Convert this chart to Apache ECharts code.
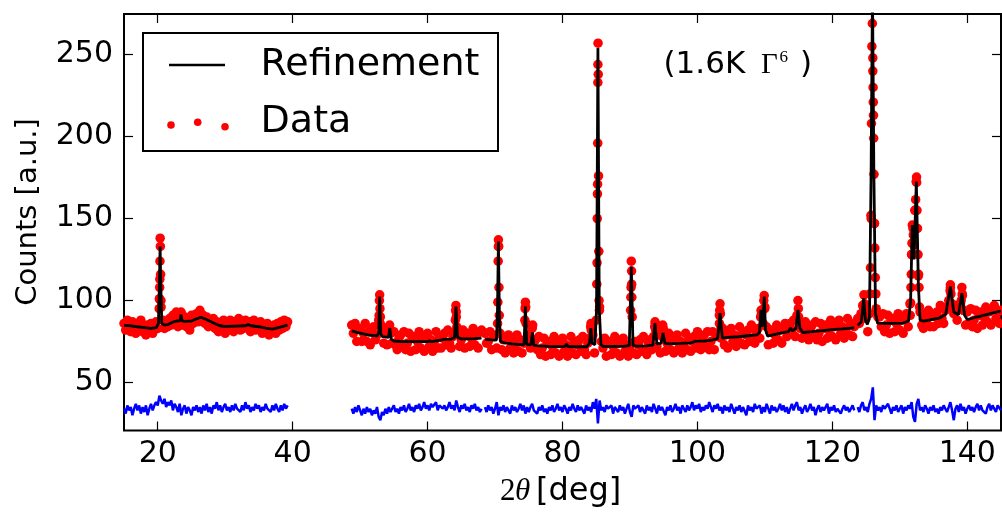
<!DOCTYPE html>
<html>
<head>
<meta charset="utf-8">
<script src="https://cdn.jsdelivr.net/npm/echarts@6/dist/echarts.min.js"></script>
<style>
  html, body { margin: 0; padding: 0; background: #ffffff; }
  #chart { width: 1002px; height: 513px; }
</style>
</head>
<body>
<div id="chart"></div>
<script>
// Powder diffraction pattern: observed counts, refined profile and difference curve.

const xTicks = [20, 40, 60, 80, 100, 120, 140];
const yTicks = [50, 100, 150, 200, 250];

// Observed data on a regular 0.25 deg grid; each block starts at the angle in segStart.
const STEP = 0.25;
const segStart = [15, 48.75, 68.5, 123.75];

const obsA = [
  86,82,88,84, 81,87,85,80, 86,83,88,81, 84,79,85,82, 86,80,84,87,
  83,101,96,88, 83,87,84,89, 85,91,86,93, 84,89,92,85, 90,84,88,82,
  91,86,89,92, 87,94,88,91, 86,90,84,88, 85,89,83,87, 81,86,83,88,
  80,86,82,88, 84,81,87,84, 89,82,86,83, 88,84,87,81, 85,88,82,86,
  83,87,80,85, 82,86,79,84, 81,85,80,86, 82,87,83,88, 84,87
];
const obsB = [
  85, 80,86,75,83,
  83,75,80,86, 75,81,73,83, 84,76,79,88, 90,84,74,81, 73,82,80,74,
  81,73,70,77, 79,73,81,70, 74,80,69,77, 78,70,75,81, 71,77,69,79,
  80,72,76,69, 75,81,71,78, 71,77,80,73, 82,74,71,78, 81,93,80,72,
  76,82,71,79, 80,72,77,83, 73,79,71,81, 82
];
const obsC = [
  80,74,
  75,81,70,78, 79,71,133,80, 70,76,68,78, 79,71,75,68, 73,79,69,76,
  68,74,96,74, 79,71,83,75, 76,70,78,67, 71,77,66,74, 75,67,72,78,
  68,74,66,76, 77,69,73,66, 72,78,68,75, 67,73,76,69, 78,70,67,74,
  77,82,79,68, 88,244,96,75, 71,77,66,74, 75,67,72,78, 68,74,66,76,
  77,69,73,66, 72,110,68,75, 67,73,76,69, 78,70,67,74, 76,70,78,86,
  72,79,68,80, 77,69,74,80, 70,76,68,78, 79,71,75,68, 74,80,70,77,
  69,75,78,71, 81,73,70,77, 79,73,81,70, 75,81,70,78, 80,91,77,83,
  73,79,71,81, 83,75,79,72, 78,84,74,81, 73,79,82,75, 85,77,74,81,
  83,77,92,86, 96,84,73,81, 82,74,79,85, 76,82,74,84, 86,78,82,86,
  82,88,78,91, 90,83,77,82, 87,79,76,83, 85,79,87,76, 80,86,75,83,
  85,77,82,88, 78,84,76,86, 88,80,84,77, 83,89,79,86,
  78,84
];
const obsD = [
  89,
  86,92,97,96, 89,81,92,150, 240,147,95,90, 90,84,92,81, 85,91,80,88,
  89,81,86,92, 82,88,80,90, 92,84,98,128, 140,155,172,115, 93,85,83,90,
  88,94,84,91, 84,90,93,86, 97,89,86,94, 96,100,108,98, 92,97,88,95,
  98,104,94,85, 93,86,95,84, 88,94,83,91, 93,85,90,96, 87,93,85,95,
  97,89,93,86,
  94
];

// Extra observed points on the flanks of the Bragg peaks [2theta, counts].
const obsPeaks = [
  [20.22,95],[20.26,101],[20.29,108],[20.31,113],[20.33,124],[20.36,138],[20.39,133],[20.43,116],[20.48,100],
  [23.45,93],
  [52.82,91],[52.86,100],[52.9,103.5],[52.94,95],[52.98,86],
  [54.38,85],[54.45,82],
  [64.12,88],[64.16,94],[64.2,97],[64.26,90],[64.33,84],
  [70.38,86],[70.42,99],[70.46,124],[70.5,137],[70.54,133],[70.58,108],[70.63,91],
  [74.42,88],[74.46,95],[74.5,99],[74.55,96],[74.6,86],
  [75.52,84],[75.58,85],
  [84.17,84],[84.22,86],
  [85.08,110],[85.12,123],[85.15,150],[85.18,165],[85.2,171],[85.22,196],[85.24,233],[85.27,257],[85.3,238],[85.34,176],[85.38,130],[85.42,100],[85.47,94],
  [90.1,94],[90.13,102],[90.16,108],[90.2,124],[90.24,118],[90.28,102],[90.33,90],
  [93.66,84],[93.72,87],[93.8,82],
  [94.86,85],[94.94,83],
  [103.26,86],[103.3,94],[103.35,98],[103.41,92],[103.48,84],
  [109.36,90],[109.43,94],[109.84,100],[109.9,103],[109.98,95],
  [114.84,90],[114.9,100],[114.96,95],[115.04,86],
  [124.6,96],[124.68,103.5],[124.78,98],
  [125.55,104],[125.65,120],[125.72,152],[125.8,208],[125.86,255],[125.93,269],[125.98,286],[126.0,248],[126.04,230],[126.07,221],[126.1,213],[126.13,199],[126.18,177],[126.24,147],[126.3,132],[126.37,114],[126.45,104],
  [131.55,91],[131.6,98.5],[131.65,108],[131.7,116],[131.75,128],[131.8,135],[131.85,146],[131.95,144],[132.05,134],[132.25,155],[132.35,161.5],[132.42,172.6],[132.48,175.3],[132.55,155],[132.62,144],[132.7,128],[132.78,116],[132.85,108],[132.92,96],
  [137.35,98],[137.45,106],[137.5,109.6],[137.58,104],[137.7,96],
  [139.1,100],[139.2,108],[139.28,103],[139.4,94]
];

// Refined profile [2theta, counts], one list per measured range.
const calcA = [
  [15.0,84.8],[16.0,84.5],[17.0,84.0],[18.0,83.5],[19.0,83.0],[19.8,83.5],[20.1,86],[20.25,110],[20.35,133],[20.45,110],[20.6,86],
  [21.0,85],[21.6,85.5],[22.2,86.8],[22.8,87.5],[23.3,87.6],[23.45,91.3],[23.6,87.6],[24.0,87.3],[24.9,87.4],[25.6,88.6],
  [26.4,89.8],[27.2,88.4],[28.2,86.4],[29.2,84.6],[30.0,84.2],[31.5,84.4],[33.0,84.6],[33.4,85.3],[33.8,84.6],[35.0,84.0],
  [36.0,83.2],[37.0,82.6],[38.0,83.6],[39.25,85.0]
];
const calcB = [
  [48.75,81.5],[49.5,80.6],[50.5,79.6],[51.5,78.8],[52.5,78.4],[52.75,80],[52.9,102.4],[53.05,80],[53.3,78],[54.2,77.5],
  [54.4,83.2],[54.6,76.5],[55.0,75.3],[56.0,75.0],[57.0,74.9],[58.0,74.9],[59.0,74.9],[60.0,74.9],[60.3,75.5],[60.6,74.9],
  [61.5,75.6],[62.5,76.3],[63.5,76.5],[64.0,77.5],[64.2,96.3],[64.45,77.5],[65.0,76.6],[66.0,76.6],[67.0,76.7],[68.0,77.0]
];
const calcC = [
  [68.5,76.3],[69.5,76.0],[70.2,75.8],[70.35,90],[70.5,136],[70.65,90],[70.8,75],[71.4,74.2],[72.5,73.6],[73.5,73.2],
  [74.3,73.0],[74.5,96.3],[74.7,73.3],[75.3,73.0],[75.55,80.5],[75.75,72.6],[76.5,72.3],[78.0,72.0],[79.5,71.9],[80.4,72.0],
  [80.6,73.5],[80.8,71.9],[82.0,71.8],[83.6,71.8],[84.0,74],[84.2,83.2],[84.4,74],[84.8,73],[85.05,95],[85.25,254],
  [85.45,95],[85.7,73],[86.0,72],[87.5,72],[89.0,72],[89.9,72.5],[90.2,120.7],[90.45,72.5],[91.0,72.2],[92.5,72.3],
  [93.4,72.8],[93.7,86.2],[94.0,73.5],[94.6,73.8],[94.9,80.1],[95.2,73.8],[96.0,73.6],[97.5,73.8],[99.0,74.2],[99.8,75.2],
  [100.0,74.4],[101.0,75.2],[102.3,76.0],[103.0,76.8],[103.35,92.3],[103.7,77.0],[104.5,77.5],[106.0,77.9],[107.5,78.5],[108.8,79],
  [109.2,80.5],[109.4,94.3],[109.6,84],[109.75,88],[109.9,102.4],[110.1,82],[110.4,78.3],[111.5,79.3],[112.5,80.2],[113.5,81],
  [113.8,83.2],[114.1,81.5],[114.6,83],[114.9,94.3],[115.2,83],[115.6,80.5],[117.0,81],[118.5,81.6],[120.0,82.3],[120.2,83.3],
  [120.4,82.4],[121.5,82.7],[123.25,83.3]
];
const calcD = [
  [123.75,84.8],[124.3,87],[124.65,101.5],[124.9,88],[125.2,85.5],[125.5,90],[125.75,180],[125.95,290],[126.15,180],[126.4,92],
  [126.7,86.2],[127.5,86.0],[129.0,86.0],[130.5,86.2],[131.3,87.5],[131.6,100],[131.85,146],[132.1,125],[132.45,172.6],[132.75,110],
  [133.0,88],[133.5,87.4],[134.5,88.2],[135.8,89.2],[136.8,91.5],[137.5,108.5],[138.0,93],[138.7,91.3],[139.2,104.5],[139.6,91],
  [140.0,88.4],[141.0,89.5],[142.0,90.5],[143.0,91.6],[144.0,92.6],[145.0,93.6]
];

// Difference curve (shifted), same grid as the observed blocks.
const diffA = [
  34,31,36,33, 35,30,34,37, 33,36,31,35, 32,36,30,34, 37,33,36,38,
  36,42,39,37, 40,35,38,36, 39,33,37,35, 32,37,30,34, 36,31,35,33,
  30,35,33,36, 32,35,31,36, 33,37,32,35, 31,36,34,38, 33,36,32,35,
  37,33,35,32, 36,33,37,34, 35,32,36,33, 38,34,36,32, 35,33,37,34,
  36,32,35,33, 37,34,35,32, 36,33,37,34, 32,36,33,37, 34,36
];
const diffB = [
  34, 31,35,32,36,
  33,30,34,31, 35,32,34,30, 33,31,35,29, 27,32,30,34, 31,35,32,33,
  36,32,34,31, 35,33,36,32, 34,37,33,35, 32,36,34,37, 33,35,38,34,
  36,33,37,35, 34,38,33,36, 37,34,36,33, 35,38,34,36, 33,39,35,32,
  36,34,37,33, 35,32,36,34, 37,33,35,32, 34
];
const diffC = [
  35,32,
  36,33,35,31, 34,38,30,35, 33,36,32,35, 34,31,36,33, 35,32,34,37,
  33,36,31,35, 32,35,37,33, 34,31,35,33, 36,32,34,31, 35,33,36,32,
  34,37,33,35, 32,36,34,31, 35,33,37,34, 32,36,33,35, 34,31,36,33,
  35,32,38,34, 40,25,39,33, 35,32,36,34, 33,36,31,35, 34,32,36,33,
  35,31,34,37, 32,29,36,34, 33,36,32,35, 34,31,36,33, 35,32,37,34,
  31,36,33,35, 34,30,35,33, 36,32,34,37, 33,35,31,36, 34,32,36,33,
  35,38,33,36, 34,37,32,35, 33,36,34,38, 35,32,36,34, 37,33,35,31,
  36,33,35,32, 37,34,31,35, 33,36,32,35, 34,30,36,33, 35,32,37,34,
  33,36,31,35, 32,37,34,31, 36,33,35,32, 34,37,33,36, 32,35,31,34,
  37,33,36,38, 33,35,31,34, 36,32,34,37, 33,35,30,34, 36,32,35,33,
  34,37,31,35, 33,36,32,34, 35,31,34,36, 33,35,32,34,
  36,33
];
const diffD = [
  35,
  32,36,38,33, 35,32,37,40, 47,27,36,33, 35,32,36,34, 33,37,34,31,
  35,33,36,32, 34,36,31,35, 33,36,34,38, 29,26,37,40, 33,35,32,36,
  34,31,35,33, 36,32,34,31, 35,33,36,34, 32,35,38,33, 27,34,36,32,
  37,33,35,31, 34,36,33,35, 32,35,37,33, 36,33,34,31, 35,37,33,36,
  34,32,36,35,
  33
];

const obsSegs = [obsA, obsB, obsC, obsD];
const diffSegs = [diffA, diffB, diffC, diffD];
const calcSegs = [calcA, calcB, calcC, calcD];

function onGrid(start, values) {
  return values.map((v, i) => [+(start + i * STEP).toFixed(2), v]);
}

const FONT = 'DejaVu Sans';

let obsPoints = [];
obsSegs.forEach((vals, i) => { obsPoints = obsPoints.concat(onGrid(segStart[i], vals)); });
obsPoints = obsPoints.concat(obsPeaks);

const series = [{
  type: 'scatter',
  name: 'Data',
  data: obsPoints,
  symbol: 'circle',
  symbolSize: 9.5,
  itemStyle: { color: '#ff0000', opacity: 1 },
  clip: true,
  silent: true,
  z: 2
}];
diffSegs.forEach((vals, i) => {
  series.push({
    type: 'line',
    name: 'Difference',
    data: onGrid(segStart[i], vals),
    symbol: 'none',
    lineStyle: { color: '#0000ff', width: 2.5 },
    clip: true,
    silent: true,
    z: 3
  });
});
calcSegs.forEach((pts) => {
  series.push({
    type: 'line',
    name: 'Refinement',
    data: pts,
    symbol: 'none',
    lineStyle: { color: '#000000', width: 2.8 },
    clip: true,
    silent: true,
    z: 4
  });
});

const tickStyle = { color: '#000', width: 1.2 };
function xAxisDef(pos, labels) {
  return {
    type: 'value', min: 15, max: 145, position: pos,
    axisLine: { show: false },
    splitLine: { show: false },
    axisTick: { inside: true, length: 9, lineStyle: tickStyle, customValues: xTicks },
    axisLabel: { show: labels, customValues: xTicks, color: '#000', fontFamily: FONT, fontSize: 30, margin: 9 }
  };
}
function yAxisDef(pos, labels) {
  return {
    type: 'value', min: 20.7, max: 274.8, position: pos,
    axisLine: { show: false },
    splitLine: { show: false },
    axisTick: { inside: true, length: 9, lineStyle: tickStyle, customValues: yTicks },
    axisLabel: { show: labels, customValues: yTicks, color: '#000', fontFamily: FONT, fontSize: 30, margin: 11 }
  };
}

const chart = echarts.init(document.getElementById('chart'), null, { renderer: 'canvas' });
chart.setOption({
  animation: false,
  backgroundColor: '#ffffff',
  grid: { left: 124, right: 1, top: 14, bottom: 82.5, show: true, borderColor: '#000', borderWidth: 2, backgroundColor: 'transparent' },
  xAxis: [xAxisDef('bottom', true), xAxisDef('top', false)],
  yAxis: [yAxisDef('left', true), yAxisDef('right', false)],
  series: series,
  graphic: [
    // axis titles
    { type: 'text', x: 28, y: 212, rotation: Math.PI / 2, z: 50,
      style: { text: 'Counts [a.u.]', font: '29px "DejaVu Sans"', fill: '#000', align: 'center', verticalAlign: 'middle' } },
    { type: 'text', x: 500, y: 492, z: 50,
      style: { text: '2', font: '31px "Liberation Serif"', fill: '#000', align: 'left', verticalAlign: 'middle' } },
    { type: 'text', x: 515, y: 492, z: 50,
      style: { text: 'θ', font: 'italic 31px "Liberation Serif"', fill: '#000', align: 'left', verticalAlign: 'middle' } },
    { type: 'text', x: 536, y: 492, z: 50,
      style: { text: '[deg]', font: '32px "DejaVu Sans"', fill: '#000', align: 'left', verticalAlign: 'middle' } },
    // sample label
    { type: 'text', x: 663.5, y: 65, z: 50,
      style: { text: '(1.6K', font: '31px "DejaVu Sans"', fill: '#000', align: 'left', verticalAlign: 'middle' } },
    { type: 'text', x: 761, y: 65, z: 50,
      style: { text: 'Γ', font: '29px "Liberation Serif"', fill: '#000', align: 'left', verticalAlign: 'middle' } },
    { type: 'text', x: 779.5, y: 58, z: 50,
      style: { text: '6', font: '17px "Liberation Serif"', fill: '#000', align: 'left', verticalAlign: 'middle' } },
    { type: 'text', x: 800, y: 65, z: 50,
      style: { text: ')', font: '31px "DejaVu Sans"', fill: '#000', align: 'left', verticalAlign: 'middle' } },
    // legend
    { type: 'rect', z: 60, shape: { x: 143, y: 33, width: 355, height: 118 },
      style: { fill: '#ffffff', stroke: '#000', lineWidth: 2 } },
    { type: 'line', z: 61, shape: { x1: 169, y1: 65, x2: 225, y2: 65 },
      style: { stroke: '#000', lineWidth: 2.5 } },
    { type: 'circle', z: 61, shape: { cx: 171, cy: 125, r: 3.8 }, style: { fill: '#ff0000' } },
    { type: 'circle', z: 61, shape: { cx: 197.7, cy: 122.3, r: 3.8 }, style: { fill: '#ff0000' } },
    { type: 'circle', z: 61, shape: { cx: 225, cy: 126.7, r: 3.8 }, style: { fill: '#ff0000' } },
    { type: 'text', x: 260.6, y: 65, z: 61,
      style: { text: 'Refinement', font: '38px "DejaVu Sans"', fill: '#000', align: 'left', verticalAlign: 'middle' } },
    { type: 'text', x: 260.6, y: 122, z: 61,
      style: { text: 'Data', font: '38px "DejaVu Sans"', fill: '#000', align: 'left', verticalAlign: 'middle' } }
  ]
});
</script>
</body>
</html>
